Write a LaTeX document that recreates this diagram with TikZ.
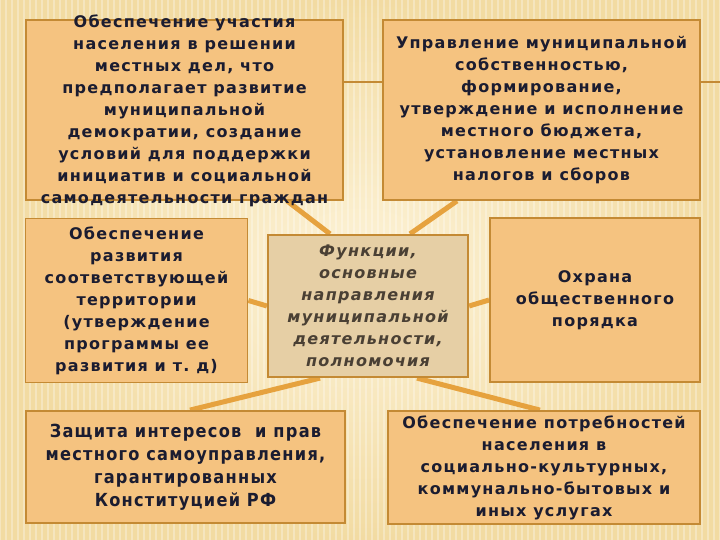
\documentclass[tikz,border=0pt]{standalone}
\usepackage{fontspec}
\newfontfamily\boxfont{DejaVu Sans}[LetterSpace=8]
\newfontfamily\condfont{DejaVu Sans Condensed}[LetterSpace=7]
\usetikzlibrary{backgrounds}
\definecolor{mpaper}{HTML}{FDF3D8}
\definecolor{medge}{HTML}{F2DBA2}
\definecolor{mbox}{HTML}{F5C380}
\definecolor{mframe}{HTML}{C48A34}
\definecolor{mcore}{HTML}{E6CFA5}
\definecolor{mlink}{HTML}{E6A23E}
\definecolor{mtext}{HTML}{1B1C30}
\definecolor{mcoretext}{HTML}{4A4034}
\tikzset{
  fbox/.style = {draw=mframe, line width=1.8pt, fill=mbox, inner sep=0},
  core/.style = {draw=mframe, line width=2.2pt, fill=mcore, inner sep=0},
  txt/.style = {align=center, text=mtext, inner sep=0,
    font=\boxfont\bfseries\fontsize{16}{22}\selectfont},
  ctxt/.style = {align=center, text=mtext, inner sep=0,
    font=\condfont\bfseries\fontsize{18}{23}\selectfont},
  link/.style = {draw=mlink, line width=5pt}
}

\begin{document}
\begin{tikzpicture}[x=1pt, y=-1pt]
    \useasboundingbox (0, 0) rectangle (720, 540);

    % boxes
    \node [fbox, minimum width=317, minimum height=180] (b1) at (184.5, 110) {};
    \coordinate (rim) at (720, 82);
    \draw [mframe, line width=1.6pt] (b1.east |- rim) -- (rim);
    \node [fbox, minimum width=317, minimum height=180] (b2) at (541.5, 110) {};
    \node [fbox, minimum width=222, minimum height=164] (b3) at (136.5, 300.5) {};
    \node [core, minimum width=200, minimum height=142] (c) at (368, 306) {};
    \node [fbox, minimum width=210, minimum height=164] (b4) at (595, 300) {};
    \node [fbox, minimum width=319, minimum height=112] (b5) at (185.5, 467) {};
    \node [fbox, minimum width=312, minimum height=113] (b6) at (544, 467.5) {};

    \begin{scope}[on background layer]
      \shade [inner color=mpaper, outer color=medge] (0, 0) rectangle (720, 540);
      \foreach \x in {0, 6, ..., 720} {
        \draw [white, opacity=0.3, line width=1.5pt] (\x, 0) -- (\x, 540);
      }
      \draw [link] ([xshift=-38pt]c.north) -- ([xshift=102.5pt]b1.south);
      \draw [link] ([xshift=42pt]c.north) -- ([xshift=-84.5pt]b2.south);
      \draw [link] (c.west) -- (b3.east);
      \draw [link] (c.east) -- (b4.west);
      \draw [link] ([xshift=-48pt]c.south) -- ([xshift=4.5pt]b5.north);
      \draw [link] ([xshift=49pt]c.south) -- ([xshift=-4pt]b6.north);
    \end{scope}

    % texts
    \node [txt] (t1) at ([yshift=-1pt]b1) {Обеспечение участия\\населения в решении\\местных дел, что\\предполагает развитие\\муниципальной\\демократии, создание\\условий для поддержки\\инициатив и социальной\\самодеятельности граждан};
    \node [txt] (t2) at (b2) {Управление муниципальной\\собственностью,\\формирование,\\утверждение и исполнение\\местного бюджета,\\установление местных\\налогов и сборов};
    \node [txt] (t3) at (b3) {Обеспечение\\развития\\соответствующей\\территории\\(утверждение\\программы ее\\развития и т.~д)};
    \node [txt, text=mcoretext, font=\boxfont\bfseries\itshape\fontsize{16}{22}\selectfont]
      (tc) at (c) {Функции,\\основные\\направления\\муниципальной\\деятельности,\\полномочия};
    \node [txt] (t4) at (b4) {Охрана\\общественного\\порядка};
    \node [ctxt] (t5) at (b5) {Защита интересов~ и прав\\местного самоуправления,\\гарантированных\\Конституцией РФ};
    \node [txt] (t6) at (b6) {Обеспечение потребностей\\населения в\\социально-культурных,\\коммунально-бытовых и\\иных услугах};
  \end{tikzpicture}
\end{document}
